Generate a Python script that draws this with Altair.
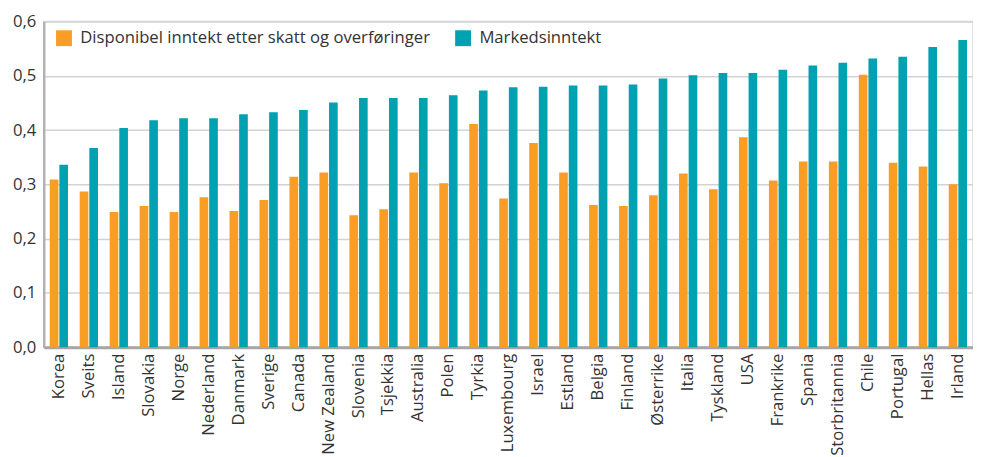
import altair as alt
import pandas as pd

countries = ["Korea", "Sveits", "Island", "Slovakia", "Norge", "Nederland", "Danmark",
             "Sverige", "Canada", "New Zealand", "Slovenia", "Tsjekkia", "Australia",
             "Polen", "Tyrkia", "Luxembourg", "Israel", "Estland", "Belgia", "Finland",
             "Østerrike", "Italia", "Tyskland", "USA", "Frankrike", "Spania",
             "Storbritannia", "Chile", "Portugal", "Hellas", "Irland"]
disponibel = [0.309, 0.287, 0.249, 0.260, 0.249, 0.276, 0.251, 0.271, 0.314, 0.322,
              0.243, 0.254, 0.322, 0.302, 0.411, 0.274, 0.376, 0.322, 0.262, 0.260,
              0.280, 0.320, 0.291, 0.387, 0.307, 0.342, 0.342, 0.502, 0.340, 0.333, 0.300]
marked = [0.336, 0.367, 0.404, 0.418, 0.422, 0.422, 0.429, 0.433, 0.437, 0.451,
          0.459, 0.459, 0.459, 0.464, 0.473, 0.479, 0.480, 0.482, 0.482, 0.484,
          0.495, 0.501, 0.505, 0.505, 0.511, 0.519, 0.524, 0.532, 0.535, 0.553, 0.566]
series = ["Disponibel inntekt etter skatt og overføringer", "Markedsinntekt"]
colors = ["#F99D25", "#00A1B1"]
y_ticks = [0.0, 0.1, 0.2, 0.3, 0.4, 0.5, 0.6]

rows = []
for c, d, m in zip(countries, disponibel, marked):
    rows.append({"land": c, "serie": series[0], "verdi": d})
    rows.append({"land": c, "serie": series[1], "verdi": m})
df = pd.DataFrame(rows)

FONT = "Open Sans"
FS = 16.8

chart = alt.Chart(df).mark_bar().encode(
    x=alt.X("land:N", sort=countries, title=None,
            scale=alt.Scale(paddingInner=0.39, paddingOuter=0.2),
            axis=alt.Axis(labelAngle=270, ticks=False, domainColor="#a9a5a5",
                          domainWidth=3, labelFontSize=FS, labelColor="#333333",
                          labelFont=FONT, labelPadding=6)),
    xOffset=alt.XOffset("serie:N", sort=series, scale=alt.Scale(paddingInner=0.1)),
    y=alt.Y("verdi:Q", title=None,
            scale=alt.Scale(domain=[0, 0.6], nice=False),
            axis=alt.Axis(values=y_ticks, ticks=False, domainColor="#b5b1b1",
                          domainWidth=2.5, gridColor="#d3d3d3", gridWidth=1.5,
                          labelFontSize=FS, labelColor="#333333", labelFont=FONT,
                          labelPadding=8,
                          labelExpr="replace(format(datum.value, '.1f'), '.', ',')")),
    color=alt.Color("serie:N", sort=series,
                    scale=alt.Scale(domain=series, range=colors),
                    legend=alt.Legend(title=None, orient="none", legendX=12, legendY=8,
                                      direction="horizontal", symbolType="square",
                                      symbolSize=256, symbolStrokeWidth=0,
                                      labelFontSize=FS, labelFont=FONT,
                                      labelColor="#333333", labelOffset=8,
                                      columnPadding=24, labelLimit=600)),
).properties(
    width=936, height=328,
    autosize=alt.AutoSizeParams(type="none"),
    padding={"left": 36, "top": 12, "right": 0, "bottom": 109},
).configure_view(
    stroke="#d9d9d9", strokeWidth=1.5
)

chart.save("out.html", embed_options={"renderer": "svg", "actions": False})
